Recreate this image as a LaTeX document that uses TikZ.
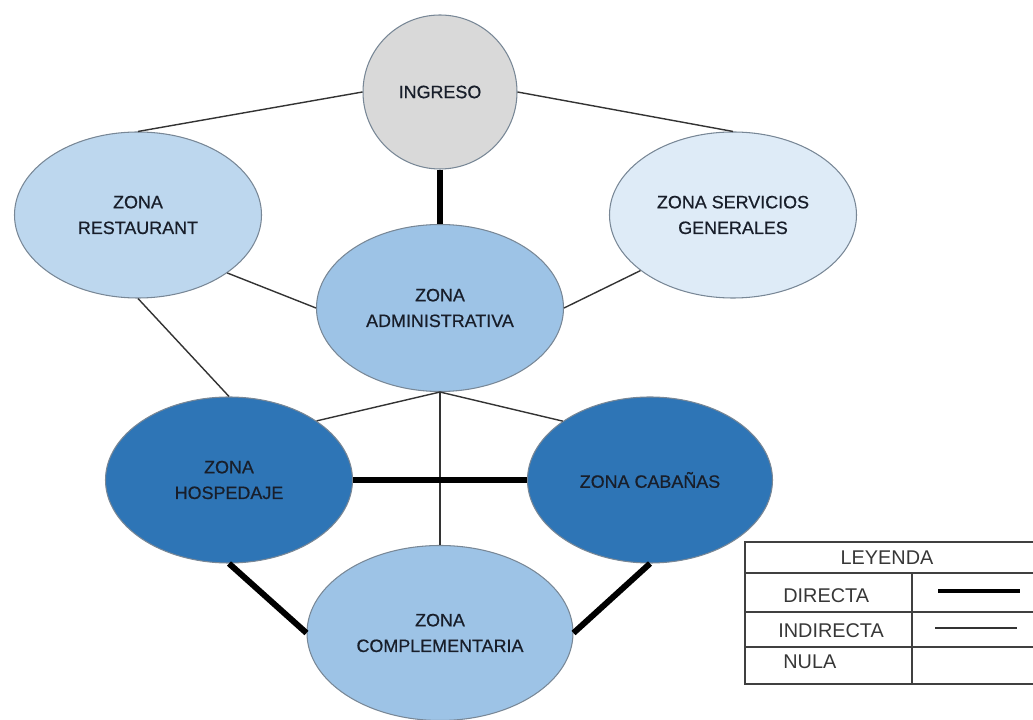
\documentclass[tikz,border=0pt]{standalone}
\usepackage{fontspec}
\setmainfont{Liberation Sans}
\newfontfamily\zonafont[FakeBold=0.6]{Liberation Sans}
\usepackage{xcolor}
\usepackage{tikz}
\usetikzlibrary{
  shapes.geometric,
  positioning
}
\definecolor{ingresogray}{RGB}{217, 217, 217}
\definecolor{restblue}{RGB}{189, 215, 238}
\definecolor{servblue}{RGB}{222, 235, 247}
\definecolor{admblue}{RGB}{157, 195, 230}
\definecolor{hospblue}{RGB}{46, 117, 182}
\definecolor{zonatext}{RGB}{24, 30, 42}
\definecolor{zonaborder}{RGB}{120, 135, 150}
\definecolor{legtext}{RGB}{55, 55, 55}
\tikzset{
  zona/.style = {
    ellipse, draw=zonaborder, line width=0.6pt,
    fill=#1, minimum width=4.94cm, minimum height=3.32cm,
    align=center, text=zonatext,
    font=\zonafont\fontsize{10.2}{14.6}\selectfont
  },
  zona/.default = restblue,
  directa/.style   = {draw=black, line width=3.4pt},
  indirecta/.style = {draw=black!80, line width=0.8pt},
  legline/.style   = {draw=black!75, line width=0.8pt},
  legtxt/.style    = {font=\fontsize{11.3}{13}\selectfont, text=legtext,
                      inner sep=0pt},
}

\begin{document}
\begin{tikzpicture}
  \useasboundingbox (0,0) rectangle (20.66,14.4);

  %% ── Zones ──────────────────────────────────────────────────────────────
  \node[zona=ingresogray, circle, minimum size=3.08cm] (ingreso)
    at (8.8,12.56) {INGRESO};
  \node[zona=restblue] (rest) at (2.76,10.1)
    {ZONA\\RESTAURANT};
  \node[zona=servblue] (serv) at (14.66,10.1)
    {ZONA SERVICIOS\\GENERALES};
  \node[zona=admblue, minimum height=3.34cm] (adm) at (8.8,8.24)
    {ZONA\\ADMINISTRATIVA};
  \node[zona=hospblue] (hosp) at (4.58,4.8)
    {ZONA\\HOSPEDAJE};
  \node[zona=hospblue, minimum width=4.9cm] (cab) at (13.0,4.8)
    {ZONA CABAÑAS};
  \node[zona=admblue, minimum width=5.32cm, minimum height=3.5cm] (comp)
    at (8.8,1.74) {ZONA\\COMPLEMENTARIA};

  %% ── Relations ──────────────────────────────────────────────────────────
  \draw[indirecta] (ingreso.west) -- (rest.north);
  \draw[indirecta] (ingreso.east) -- (serv.north);
  \draw[directa]   (ingreso.south) -- (adm.north);
  \draw[indirecta] (rest.-33) -- (adm.west);
  \draw[indirecta] (serv.211) -- (adm.east);
  \draw[indirecta] (rest.south) -- (hosp.north);
  \draw[indirecta] (adm.south) -- (hosp.34);
  \draw[indirecta] (adm.south) -- (cab.146);
  \draw[indirecta] (adm.south) -- (comp.north);
  \draw[directa]   (hosp.east) -- (cab.west);
  \draw[directa]   (hosp.south) -- (comp.west);
  \draw[directa]   (cab.south) -- (comp.east);

  %% ── Legend ─────────────────────────────────────────────────────────────
  \draw[legline] (20.66,3.56) -- (14.9,3.56) -- (14.9,0.72) -- (20.66,0.72);
  \draw[legline] (14.9,2.94) -- (20.66,2.94);
  \draw[legline] (14.9,2.16) -- (20.66,2.16);
  \draw[legline] (14.9,1.46) -- (20.66,1.46);
  \draw[legline] (18.24,2.94) -- (18.24,0.72);

  \node[legtxt] (leyenda) at (17.74,3.24) {LEYENDA};
  \node[legtxt, anchor=west] (ldirecta)   at (15.66,2.48) {DIRECTA};
  \node[legtxt, anchor=west] (lindirecta) at (15.56,1.78) {INDIRECTA};
  \node[legtxt, anchor=west] (lnula)      at (15.66,1.16) {NULA};

  \coordinate (d1) at (18.76,2.58);
  \coordinate (d2) at (20.4,2.58);
  \coordinate (i1) at (18.7,1.84);
  \coordinate (i2) at (20.34,1.84);
  \draw[directa, line width=2.8pt] (d1) -- (d2);
  \draw[indirecta] (i1) -- (i2);

\end{tikzpicture}
\end{document}
